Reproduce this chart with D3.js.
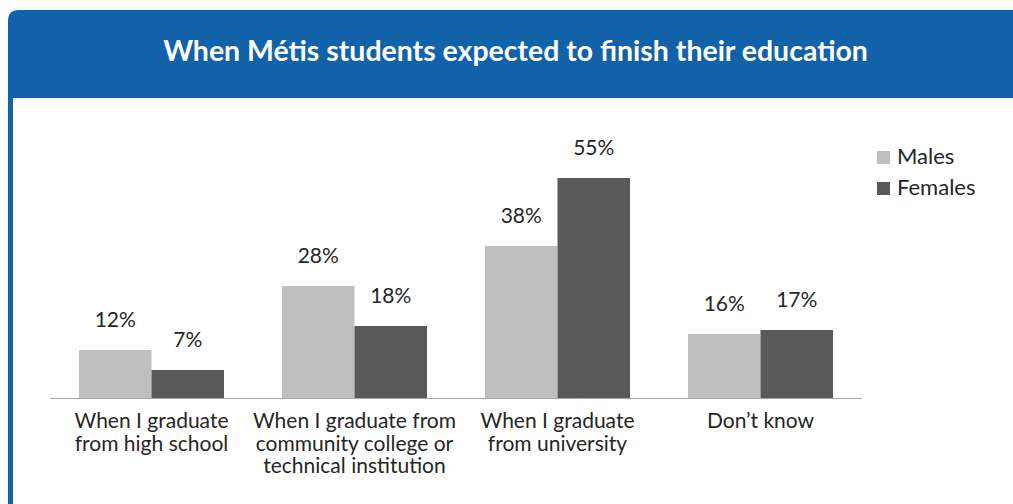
<!DOCTYPE html>
<html>
<head>
<meta charset="utf-8">
<script src="https://cdn.jsdelivr.net/npm/d3@7"></script>
<style>
  html, body { margin: 0; padding: 0; background: #ffffff; }
  svg { display: block; }
  text { font-family: Lato, "Open Sans", sans-serif; }
</style>
</head>
<body>
<svg id="chart" width="1013" height="504"></svg>
<script>
// Chart data
const title = "When Métis students expected to finish their education";
const categories = [
  ["When I graduate", "from high school"],
  ["When I graduate from", "community college or", "technical institution"],
  ["When I graduate", "from university"],
  ["Don\u2019t know"]
];
const seriesNames = ["Males", "Females"];
const males = [12, 28, 38, 16];
const females = [7, 18, 55, 17];
const seriesColors = ["#bfbfbf", "#595959"];

const svg = d3.select("#chart");
const W = 1013, H = 504;
const blue = "#1262aa";

// Header band with rounded top-left corner and left rule
const hx = 8, hy = 10, hh = 88, r = 11;
svg.append("path")
  .attr("d", `M${hx},${hy + hh} L${hx},${hy + r} Q${hx},${hy} ${hx + r},${hy} L${W + 5},${hy} L${W + 5},${hy + hh} Z`)
  .attr("fill", blue);
svg.append("rect")
  .attr("x", hx).attr("y", hy + hh - 1)
  .attr("width", 5).attr("height", H - hy - hh + 2)
  .attr("fill", blue);

const titleText = svg.append("text")
  .attr("x", 515.5).attr("y", 61)
  .attr("text-anchor", "middle")
  .attr("fill", "#ffffff")
  .attr("font-weight", 700)
  .attr("font-size", 26)
  .text(title);
// fit the title to its measured span
const tw = titleText.node().getComputedTextLength();
titleText.attr("font-size", 26 * 705 / tw);

// Scales
const x0 = d3.scaleBand().domain(d3.range(categories.length)).range([50, 862]).padding(0);
const x1 = d3.scaleBand().domain(seriesNames).range([0, x0.bandwidth()]).paddingInner(0).paddingOuter(0.4);
const y = d3.scaleLinear().domain([0, 70]).range([398, 118]);
const color = d3.scaleOrdinal().domain(seriesNames).range(seriesColors);

const rows = categories.map((c, i) => ({
  i,
  values: [{ key: "Males", v: males[i] }, { key: "Females", v: females[i] }]
}));

const groups = svg.append("g").selectAll("g")
  .data(rows).join("g")
  .attr("transform", d => `translate(${x0(d.i)},0)`);

groups.selectAll("rect")
  .data(d => d.values).join("rect")
  .attr("x", d => x1(d.key))
  .attr("y", d => y(d.v))
  .attr("width", x1.bandwidth())
  .attr("height", d => y(0) - y(d.v))
  .attr("fill", d => color(d.key));

groups.selectAll("text.val")
  .data(d => d.values).join("text")
  .attr("class", "val")
  .attr("x", d => x1(d.key) + x1.bandwidth() / 2)
  .attr("y", d => y(d.v) - 23)
  .attr("text-anchor", "middle")
  .attr("font-size", 21)
  .attr("fill", "#262626")
  .text(d => d.v + "%");

// Category axis
svg.append("line")
  .attr("x1", 50).attr("x2", 862)
  .attr("y1", 398.5).attr("y2", 398.5)
  .attr("stroke", "#a6a6a6").attr("stroke-width", 1.2);

const labels = svg.append("g").selectAll("text")
  .data(categories.map((lines, i) => ({ lines, i }))).join("text")
  .attr("x", d => x0(d.i) + x0.bandwidth() / 2)
  .attr("y", 428)
  .attr("text-anchor", "middle")
  .attr("font-size", 21)
  .attr("fill", "#262626");
labels.selectAll("tspan")
  .data(d => d.lines.map((t, k) => ({ t, k, x: x0(d.i) + x0.bandwidth() / 2 }))).join("tspan")
  .attr("x", d => d.x)
  .attr("dy", d => d.k === 0 ? 0 : 22.5)
  .text(d => d.t);

// Legend
const legend = svg.append("g").selectAll("g")
  .data(seriesNames).join("g")
  .attr("transform", (d, k) => `translate(877,${151 + k * 31})`);
legend.append("rect")
  .attr("width", 13).attr("height", 13)
  .attr("fill", d => color(d));
legend.append("text")
  .attr("x", 20).attr("y", 12.5)
  .attr("font-size", 22)
  .attr("fill", "#262626")
  .text(d => d);
</script>
</body>
</html>
